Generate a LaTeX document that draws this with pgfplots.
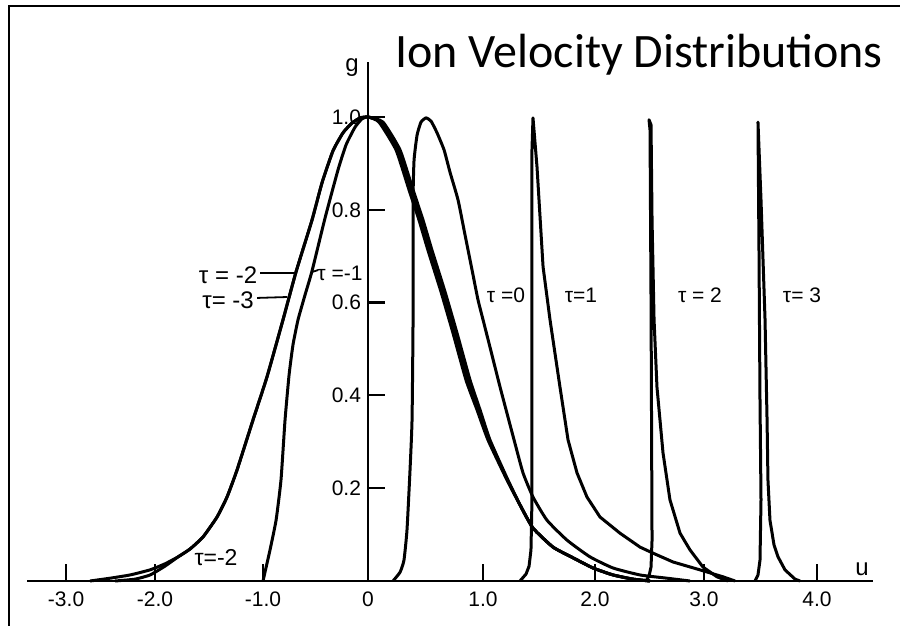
\documentclass[border=0pt]{standalone}
\usepackage{fontspec}
\setmainfont{Liberation Sans}
\newfontfamily\titlefont{Carlito}
\usepackage{pgfplots}
\pgfplotsset{compat=1.18}
\begin{document}
\begin{tikzpicture}
\path[use as bounding box] (0pt,0pt) rectangle (450pt,313pt);
\draw[line width=0.8pt] (4.5pt,0pt) -- (4.5pt,310pt) -- (450pt,310pt);
\begin{axis}[
  at={(13.5pt,22.5pt)}, anchor=south west,
  scale only axis, width=423pt, height=259.5pt,
  xmin=-3.045, xmax=4.509, ymin=0, ymax=1.1185,
  axis lines=middle, axis line style={line width=1.3pt,-},
  hide obscured x ticks=false, hide obscured y ticks=false,
  xtick={-2.696,-1.902,-0.9375,0,1.027,2.027,3.0,4.009},
  xticklabels={-3.0,-2.0,-1.0,0,1.0,2.0,3.0,4.0},
  ytick={0.2,0.4,0.6,0.8,1.0},
  yticklabels={0.2,0.4,0.6,0.8,1.0},
  tick align=inside, major tick length=8.5pt,
  tick style={line width=1.1pt,black},
  tick label style={font=\fontsize{10.5}{12}\selectfont},
  xticklabel style={yshift=-1.8pt},
  clip=false,
]
% tau = -3
\addplot[black,line width=1.5pt,smooth,tension=0.3] coordinates {
(-2.482,0) (-2.304,0.006) (-2.125,0.013) (-1.946,0.024) (-1.813,0.037) (-1.696,0.052) (-1.589,0.069) (-1.473,0.095) (-1.348,0.138) (-1.259,0.181) (-1.170,0.239) (-1.027,0.347) (-0.902,0.440) (-0.759,0.563) (-0.643,0.666) (-0.500,0.778) (-0.411,0.858) (-0.313,0.927) (-0.223,0.966) (-0.143,0.987) (-0.071,0.998) (0,1.0) (0.134,0.989) (0.286,0.929) (0.402,0.843) (0.491,0.778) (0.571,0.713) (0.688,0.623) (0.795,0.534) (0.911,0.433) (1.0,0.369) (1.089,0.304) (1.241,0.222) (1.357,0.164) (1.473,0.114) (1.652,0.073) (1.830,0.050) (2.009,0.028) (2.188,0.013) (2.366,0.004) (2.518,0)};
% tau = -2
\addplot[black,line width=1.5pt,smooth,tension=0.3] coordinates {
(-2.259,0) (-2.080,0.004) (-1.946,0.013) (-1.813,0.032) (-1.696,0.052) (-1.589,0.069) (-1.473,0.095) (-1.348,0.138) (-1.259,0.181) (-1.170,0.239) (-1.027,0.347) (-0.902,0.440) (-0.759,0.563) (-0.643,0.666) (-0.500,0.778) (-0.411,0.858) (-0.313,0.927) (-0.223,0.966) (-0.143,0.987) (-0.071,0.998) (0,1.0) (0.116,0.989) (0.268,0.929) (0.384,0.843) (0.473,0.778) (0.553,0.713) (0.670,0.623) (0.777,0.534) (0.893,0.433) (0.986,0.369) (1.080,0.304) (1.236,0.222) (1.357,0.164) (1.473,0.114) (1.652,0.073) (1.830,0.050) (2.009,0.028) (2.188,0.013) (2.366,0.004) (2.518,0)};
% tau = -1
\addplot[black,line width=1.5pt,smooth,tension=0.3] coordinates {
(-0.9375,0) (-0.920,0.019) (-0.875,0.067) (-0.821,0.131) (-0.777,0.218) (-0.741,0.347) (-0.705,0.444) (-0.670,0.509) (-0.625,0.563) (-0.563,0.616) (-0.500,0.668) (-0.384,0.782) (-0.268,0.886) (-0.196,0.940) (-0.116,0.978) (-0.054,0.996) (0,1.0) (0.098,0.989) (0.250,0.929) (0.366,0.843) (0.455,0.778) (0.535,0.713) (0.652,0.623) (0.759,0.534) (0.875,0.433) (0.973,0.369) (1.071,0.304) (1.232,0.222) (1.357,0.164) (1.473,0.114) (1.652,0.073) (1.830,0.050) (2.009,0.028) (2.188,0.013) (2.366,0.004) (2.518,0)};
% tau = 0
\addplot[black,line width=1.5pt,smooth,tension=0.3] coordinates {
(0.223,0) (0.286,0.019) (0.321,0.045) (0.348,0.110) (0.375,0.239) (0.393,0.347) (0.402,0.563) (0.402,0.821) (0.411,0.907) (0.438,0.961) (0.473,0.989) (0.518,0.998) (0.563,0.991) (0.616,0.966) (0.679,0.929) (0.732,0.881) (0.804,0.821) (0.866,0.746) (0.929,0.670) (0.982,0.606) (1.027,0.563) (1.089,0.504) (1.179,0.418) (1.304,0.304) (1.384,0.233) (1.473,0.181) (1.598,0.131) (1.777,0.088) (1.982,0.052) (2.188,0.028) (2.429,0.013) (2.670,0.006) (2.875,0)};
% tau = 1
\addplot[black,line width=1.5pt,line join=round] coordinates {
(1.357,0) (1.411,0.015) (1.438,0.032) (1.455,0.067) (1.464,0.175) (1.464,0.606) (1.464,0.929) (1.473,0.998) (1.509,0.892) (1.563,0.677) (1.625,0.563) (1.714,0.418) (1.786,0.304) (1.866,0.233) (1.955,0.181) (2.071,0.138) (2.250,0.103) (2.429,0.073) (2.545,0.060) (2.723,0.041) (2.964,0.024) (3.170,0.009) (3.277,0)};
% tau = 2
\addplot[black,line width=1.5pt,line join=round] coordinates {
(2.482,0) (2.509,0.011) (2.527,0.030) (2.536,0.088) (2.527,0.606) (2.518,0.972) (2.509,0.994) (2.527,0.983) (2.536,0.778) (2.554,0.563) (2.580,0.418) (2.634,0.276) (2.696,0.175) (2.786,0.103) (2.875,0.067) (2.991,0.030) (3.116,0.009) (3.214,0)};
% tau = 3
\addplot[black,line width=1.5pt,line join=round] coordinates {
(3.455,0) (3.482,0.013) (3.500,0.045) (3.509,0.175) (3.500,0.390) (3.491,0.713) (3.482,0.989) (3.509,0.821) (3.545,0.563) (3.563,0.347) (3.571,0.218) (3.589,0.131) (3.625,0.078) (3.661,0.052) (3.723,0.024) (3.813,0.004) (3.857,0)};
% annotations
\node[anchor=base, font=\titlefont\fontsize{24}{28}\selectfont] at (axis cs:2.42,1.106) {Ion Velocity Distributions};
\node[font=\fontsize{12}{13}\selectfont] at (axis cs:-0.143,1.106) {g};
\node[font=\fontsize{12}{13}\selectfont] at (axis cs:4.411,0.025) {u};
\draw[line width=0.9pt] (axis cs:-0.964,0.664) -- (axis cs:-0.652,0.664);
\draw[line width=0.9pt] (axis cs:-0.991,0.610) -- (axis cs:-0.723,0.612);
\draw[line width=0.9pt] (axis cs:-0.5,0.666) -- (axis cs:-0.446,0.670);
\node[font=\fontsize{12}{13}\selectfont] at (axis cs:-1.25,0.659) {τ = -2};
\node[font=\fontsize{12}{13}\selectfont] at (axis cs:-1.25,0.606) {τ= -3};
\node[font=\fontsize{10.5}{12}\selectfont] at (axis cs:-0.25,0.662) {τ =-1};
\node[font=\fontsize{10.5}{12}\selectfont] at (axis cs:1.232,0.616) {τ =0};
\node[font=\fontsize{10.5}{12}\selectfont] at (axis cs:1.902,0.616) {τ=1};
\node[font=\fontsize{10.5}{12}\selectfont] at (axis cs:2.964,0.616) {τ = 2};
\node[font=\fontsize{10.5}{12}\selectfont] at (axis cs:3.875,0.616) {τ= 3};
\node[font=\fontsize{11.5}{13}\selectfont] at (axis cs:-1.357,0.050) {τ=-2};
\end{axis}
\end{tikzpicture}
\end{document}
